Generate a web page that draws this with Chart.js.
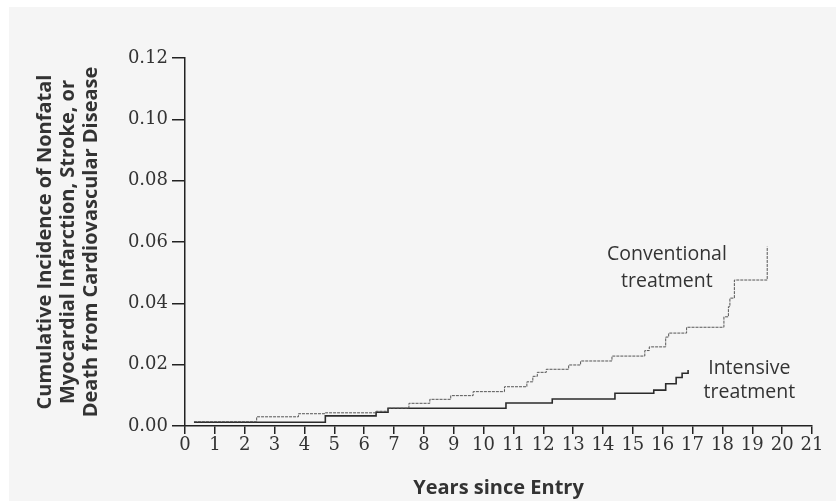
<!DOCTYPE html>
<html><head><meta charset="utf-8">
<script src="https://cdn.jsdelivr.net/npm/chart.js@4.4.1/dist/chart.umd.min.js"></script>
<style>
html,body{margin:0;padding:0;background:#fff;}
#bg{position:absolute;left:9px;top:7px;width:827px;height:494px;background:#f5f5f5;}
#wrap{position:absolute;left:0;top:0;width:836px;height:501px;}
</style></head><body>
<div id="bg"></div>
<div id="wrap"><canvas id="c" width="836" height="501"></canvas></div>
<script>
// ---- data ----
const conventionalYears = [0.3, 2.4, 3.8, 4.7, 6.4, 6.8, 7.5, 8.2, 8.9, 9.65, 10.7, 11.45, 11.65, 11.8, 12.1, 12.85, 13.25, 14.3, 15.4, 15.55, 16.1, 16.2, 16.8, 18.05, 18.2, 18.25, 18.4, 19.5];
const conventionalIncidence = [0.0014, 0.0030, 0.0040, 0.0043, 0.0048, 0.0058, 0.0074, 0.0087, 0.0099, 0.0112, 0.0128, 0.0144, 0.0162, 0.0175, 0.0185, 0.0199, 0.0212, 0.0228, 0.0246, 0.0258, 0.0290, 0.0303, 0.0322, 0.0356, 0.0389, 0.0417, 0.0476, 0.0585];
const intensiveYears = [0.3, 4.7, 6.4, 6.8, 10.75, 12.3, 14.4, 15.7, 16.1, 16.45, 16.65, 16.85];
const intensiveIncidence = [0.0012, 0.0033, 0.0045, 0.0058, 0.0075, 0.0088, 0.0107, 0.0117, 0.0138, 0.0158, 0.0172, 0.0183];
const xTicks = [0,1,2,3,4,5,6,7,8,9,10,11,12,13,14,15,16,17,18,19,20,21];
const yTicks = [0.00, 0.02, 0.04, 0.06, 0.08, 0.10, 0.12];
const seriesNames = ["Conventional treatment", "Intensive treatment"];
const xTitle = "Years since Entry";
const yTitle = ["Cumulative Incidence of Nonfatal", "Myocardial Infarction, Stroke, or", "Death from Cardiovascular Disease"];

const toPoints = (xs, ys) => xs.map((x, i) => ({x: x, y: ys[i]}));

const labelPlugin = {
  id: 'seriesLabels',
  afterDatasetsDraw(chart) {
    const {ctx, scales: {x, y}} = chart;
    ctx.save();
    ctx.fillStyle = '#333';
    ctx.font = '19.5px "Open Sans"';
    ctx.textAlign = 'center';
    ctx.textBaseline = 'middle';
    const c = seriesNames[0].split(' ');
    ctx.fillText(c[0], x.getPixelForValue(16.14), y.getPixelForValue(0.0558));
    ctx.fillText(c[1], x.getPixelForValue(16.14), y.getPixelForValue(0.0470));
    const t = seriesNames[1].split(' ');
    ctx.fillText(t[0], x.getPixelForValue(18.9), y.getPixelForValue(0.0189));
    ctx.fillText(t[1], x.getPixelForValue(18.9), y.getPixelForValue(0.0108));
    ctx.restore();
  }
};

new Chart(document.getElementById('c'), {
  type: 'line',
  data: {
    datasets: [
      {label: seriesNames[0], data: toPoints(conventionalYears, conventionalIncidence), stepped: 'before',
       borderColor: '#555', borderWidth: 1, borderDash: [3, 1], pointRadius: 0, fill: false},
      {label: seriesNames[1], data: toPoints(intensiveYears, intensiveIncidence), stepped: 'before',
       borderColor: '#2b2b2b', borderWidth: 1.6, pointRadius: 0, fill: false}
    ]
  },
  options: {
    responsive: false,
    devicePixelRatio: 1,
    animation: false,
    layout: {padding: {top: 58, right: 24, bottom: 0, left: 0}},
    plugins: {legend: {display: false}, tooltip: {enabled: false}},
    scales: {
      x: {
        type: 'linear', min: 0, max: 21,
        afterBuildTicks: s => { s.ticks = xTicks.map(v => ({value: v})); },
        afterFit: s => { s.height = 75; },
        ticks: {color: '#333', font: {family: '"DejaVu Serif"', size: 18}, padding: 1, maxRotation: 0, autoSkip: false},
        grid: {drawOnChartArea: false, drawTicks: true, tickLength: 8, color: '#222', lineWidth: 1.5},
        border: {display: true, color: '#222', width: 1.5},
        title: {display: true, text: xTitle, color: '#333', font: {family: '"Open Sans"', size: 20, weight: 'bold'}, padding: {top: 0, bottom: 1}}
      },
      y: {
        type: 'linear', min: 0, max: 0.12,
        afterBuildTicks: s => { s.ticks = yTicks.map(v => ({value: v})); },
        afterFit: s => { s.width = 185; },
        ticks: {color: '#333', font: {family: '"DejaVu Serif"', size: 18}, padding: 4, callback: v => v.toFixed(2)},
        grid: {drawOnChartArea: false, drawTicks: true, tickLength: 13, color: '#222', lineWidth: 1.5},
        border: {display: true, color: '#222', width: 1.5},
        title: {display: true, text: yTitle, color: '#333', font: {family: '"Open Sans"', size: 20, weight: 'bold', lineHeight: 1.15}, padding: {top: 34, bottom: 0}}
      }
    }
  },
  plugins: [labelPlugin]
});
</script>
</body></html>
